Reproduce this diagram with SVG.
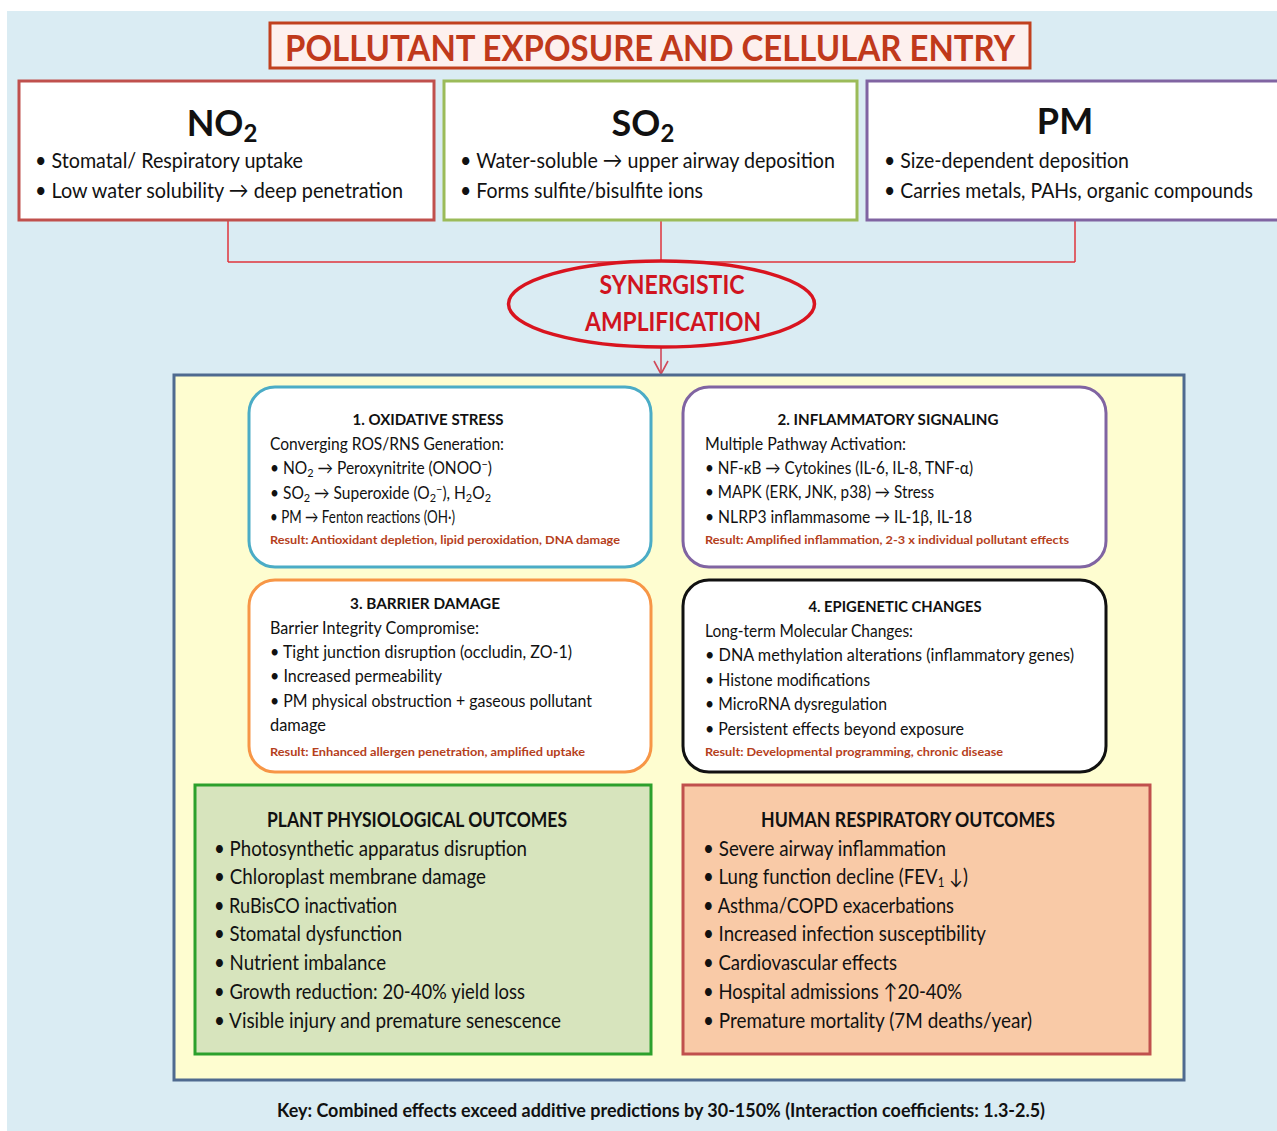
<svg xmlns="http://www.w3.org/2000/svg" width="1277" height="1131" viewBox="0 0 1277 1131">
<defs>
<style>
text{font-family:Lato,"Open Sans","Liberation Sans",sans-serif;fill:#111;}
.hdr{font-size:36px;font-weight:bold;text-anchor:middle;}
.tb{font-size:22px;}
.bt{font-size:16px;font-weight:bold;text-anchor:middle;}
.bl{font-size:17px;}
.res{font-size:12px;font-weight:bold;fill:#b5401c;}
.ot{font-size:20px;font-weight:bold;text-anchor:middle;}
.ob{font-size:21px;}
.inner{fill:#fff;stroke-width:3;}
.conn{stroke:#e0343c;stroke-width:1.5;fill:none;}
</style>
<marker id="vh" markerWidth="16" markerHeight="16" refX="14" refY="8" orient="auto" markerUnits="userSpaceOnUse" viewBox="0 0 16 16">
<path d="M1,1 L14,8 L1,15" fill="none" stroke="#d04a5a" stroke-width="1.6"/>
</marker>
</defs>
<rect x="0" y="0" width="1277" height="1131" fill="#ffffff"/>
<rect x="7" y="11" width="1270" height="1120" fill="#daecf3"/>

<g id="title">
<rect x="270" y="23" width="760" height="45" fill="#fdf0ee" stroke="#c1401e" stroke-width="3"/>
<text x="650" y="61" text-anchor="middle" font-size="36" font-weight="bold" style="fill:#c0391b" textLength="730" lengthAdjust="spacingAndGlyphs">POLLUTANT EXPOSURE AND CELLULAR ENTRY</text>
</g>

<g id="connectors">
<path class="conn" d="M228,220 V262 M661,220 V262 M1075,220 V262 M228,262 H1075"/>
<line x1="661" y1="347" x2="661" y2="374" stroke="#d04a5a" stroke-width="1.6" marker-end="url(#vh)"/>
</g>

<g id="no2">
<rect x="19" y="81" width="415" height="139" fill="#fff" stroke="#c0504d" stroke-width="3"/>
<text class="hdr" x="222" y="136">NO<tspan font-size="24" dy="6">2</tspan></text>
<text class="tb" x="35" y="168" textLength="268" lengthAdjust="spacingAndGlyphs">• Stomatal/ Respiratory uptake</text>
<text class="tb" x="35" y="198" textLength="368" lengthAdjust="spacingAndGlyphs">• Low water solubility → deep penetration</text>
</g>

<g id="so2">
<rect x="444" y="81" width="413" height="139" fill="#fff" stroke="#9bbb59" stroke-width="3"/>
<text class="hdr" x="643" y="136">SO<tspan font-size="24" dy="6">2</tspan></text>
<text class="tb" x="460" y="168" textLength="375" lengthAdjust="spacingAndGlyphs">• Water-soluble → upper airway deposition</text>
<text class="tb" x="460" y="198" textLength="243" lengthAdjust="spacingAndGlyphs">• Forms sulfite/bisulfite ions</text>
</g>

<g id="pm">
<rect x="867" y="81" width="420" height="139" fill="#fff" stroke="#8064a2" stroke-width="3"/>
<text class="hdr" x="1065" y="134">PM</text>
<text class="tb" x="884" y="168" textLength="245" lengthAdjust="spacingAndGlyphs">• Size-dependent deposition</text>
<text class="tb" x="884" y="198" textLength="369" lengthAdjust="spacingAndGlyphs">• Carries metals, PAHs, organic compounds</text>
</g>

<g id="synergy">
<ellipse cx="661.5" cy="304" rx="153" ry="43" fill="#daecf3" stroke="#d9141f" stroke-width="3.5"/>
<text x="672" y="294" text-anchor="middle" font-size="26" font-weight="bold" style="fill:#d0141f" textLength="145" lengthAdjust="spacingAndGlyphs">SYNERGISTIC</text>
<text x="673" y="331" text-anchor="middle" font-size="26" font-weight="bold" style="fill:#d0141f" textLength="176" lengthAdjust="spacingAndGlyphs">AMPLIFICATION</text>
</g>

<g id="mechanisms">
<rect x="174" y="375" width="1010" height="705" fill="#fefdd0" stroke="#4f6a8f" stroke-width="3"/>
</g>

<g id="oxidative">
<rect class="inner" x="249" y="387" width="402" height="180" rx="26" stroke="#4bacc6"/>
<text class="bt" x="428" y="425" textLength="151" lengthAdjust="spacingAndGlyphs">1. OXIDATIVE STRESS</text>
<text class="bl" x="270" y="450" textLength="234" lengthAdjust="spacingAndGlyphs">Converging ROS/RNS Generation:</text>
<text class="bl" x="270" y="474" textLength="222" lengthAdjust="spacingAndGlyphs">• NO<tspan font-size="12" baseline-shift="-3">2</tspan> → Peroxynitrite (ONOO<tspan font-size="12" baseline-shift="6">−</tspan>)</text>
<text class="bl" x="270" y="499" textLength="221" lengthAdjust="spacingAndGlyphs">• SO<tspan font-size="12" baseline-shift="-3">2</tspan> → Superoxide (O<tspan font-size="12" baseline-shift="-3">2</tspan><tspan font-size="12" baseline-shift="6">−</tspan>), H<tspan font-size="12" baseline-shift="-3">2</tspan>O<tspan font-size="12" baseline-shift="-3">2</tspan></text>
<text class="bl" x="270" y="523" textLength="185" lengthAdjust="spacingAndGlyphs">• PM → Fenton reactions (OH·)</text>
<text class="res" x="270" y="544" textLength="350" lengthAdjust="spacingAndGlyphs">Result: Antioxidant depletion, lipid peroxidation, DNA damage</text>
</g>

<g id="inflammatory">
<rect class="inner" x="683" y="387" width="423" height="180" rx="26" stroke="#8064a2"/>
<text class="bt" x="888" y="425" textLength="221" lengthAdjust="spacingAndGlyphs">2. INFLAMMATORY SIGNALING</text>
<text class="bl" x="705" y="450" textLength="201" lengthAdjust="spacingAndGlyphs">Multiple Pathway Activation:</text>
<text class="bl" x="705" y="474" textLength="268" lengthAdjust="spacingAndGlyphs">• NF-κB → Cytokines (IL-6, IL-8, TNF-α)</text>
<text class="bl" x="705" y="498" textLength="229" lengthAdjust="spacingAndGlyphs">• MAPK (ERK, JNK, p38) → Stress</text>
<text class="bl" x="705" y="523" textLength="267" lengthAdjust="spacingAndGlyphs">• NLRP3 inflammasome → IL-1β, IL-18</text>
<text class="res" x="705" y="544" textLength="364" lengthAdjust="spacingAndGlyphs">Result: Amplified inflammation, 2-3 x individual pollutant effects</text>
</g>

<g id="barrier">
<rect class="inner" x="249" y="580" width="402" height="192" rx="26" stroke="#f79646"/>
<text class="bt" x="425" y="609" textLength="150" lengthAdjust="spacingAndGlyphs">3. BARRIER DAMAGE</text>
<text class="bl" x="270" y="634" textLength="209" lengthAdjust="spacingAndGlyphs">Barrier Integrity Compromise:</text>
<text class="bl" x="270" y="658" textLength="302" lengthAdjust="spacingAndGlyphs">• Tight junction disruption (occludin, ZO-1)</text>
<text class="bl" x="270" y="682" textLength="172" lengthAdjust="spacingAndGlyphs">• Increased permeability</text>
<text class="bl" x="270" y="707" textLength="322" lengthAdjust="spacingAndGlyphs">• PM physical obstruction + gaseous pollutant</text>
<text class="bl" x="270" y="731" textLength="56" lengthAdjust="spacingAndGlyphs">damage</text>
<text class="res" x="270" y="756" textLength="315" lengthAdjust="spacingAndGlyphs">Result: Enhanced allergen penetration, amplified uptake</text>
</g>

<g id="epigenetic">
<rect class="inner" x="683" y="580" width="423" height="192" rx="26" stroke="#111"/>
<text class="bt" x="895" y="612" textLength="173" lengthAdjust="spacingAndGlyphs">4. EPIGENETIC CHANGES</text>
<text class="bl" x="705" y="637" textLength="208" lengthAdjust="spacingAndGlyphs">Long-term Molecular Changes:</text>
<text class="bl" x="705" y="661" textLength="369" lengthAdjust="spacingAndGlyphs">• DNA methylation alterations (inflammatory genes)</text>
<text class="bl" x="705" y="686" textLength="165" lengthAdjust="spacingAndGlyphs">• Histone modifications</text>
<text class="bl" x="705" y="710" textLength="182" lengthAdjust="spacingAndGlyphs">• MicroRNA dysregulation</text>
<text class="bl" x="705" y="735" textLength="259" lengthAdjust="spacingAndGlyphs">• Persistent effects beyond exposure</text>
<text class="res" x="705" y="756" textLength="298" lengthAdjust="spacingAndGlyphs">Result: Developmental programming, chronic disease</text>
</g>

<g id="plant">
<rect x="195" y="785" width="456" height="269" fill="#d7e4bd" stroke="#2ca02c" stroke-width="3"/>
<text class="ot" x="417" y="827" textLength="300" lengthAdjust="spacingAndGlyphs">PLANT PHYSIOLOGICAL OUTCOMES</text>
<text class="ob" x="214" y="856" textLength="313" lengthAdjust="spacingAndGlyphs">• Photosynthetic apparatus disruption</text>
<text class="ob" x="214" y="884" textLength="272" lengthAdjust="spacingAndGlyphs">• Chloroplast membrane damage</text>
<text class="ob" x="214" y="913" textLength="183" lengthAdjust="spacingAndGlyphs">• RuBisCO inactivation</text>
<text class="ob" x="214" y="941" textLength="188" lengthAdjust="spacingAndGlyphs">• Stomatal dysfunction</text>
<text class="ob" x="214" y="970" textLength="172" lengthAdjust="spacingAndGlyphs">• Nutrient imbalance</text>
<text class="ob" x="214" y="999" textLength="311" lengthAdjust="spacingAndGlyphs">• Growth reduction: 20-40% yield loss</text>
<text class="ob" x="214" y="1028" textLength="347" lengthAdjust="spacingAndGlyphs">• Visible injury and premature senescence</text>
</g>

<g id="human">
<rect x="683" y="785" width="467" height="269" fill="#f9caa7" stroke="#c0504d" stroke-width="3"/>
<text class="ot" x="908" y="827" textLength="294" lengthAdjust="spacingAndGlyphs">HUMAN RESPIRATORY OUTCOMES</text>
<text class="ob" x="703" y="856" textLength="243" lengthAdjust="spacingAndGlyphs">• Severe airway inflammation</text>
<text class="ob" x="703" y="884" textLength="265" lengthAdjust="spacingAndGlyphs">• Lung function decline (FEV<tspan font-size="13" baseline-shift="-3">1</tspan> ↓)</text>
<text class="ob" x="703" y="913" textLength="251" lengthAdjust="spacingAndGlyphs">• Asthma/COPD exacerbations</text>
<text class="ob" x="703" y="941" textLength="283" lengthAdjust="spacingAndGlyphs">• Increased infection susceptibility</text>
<text class="ob" x="703" y="970" textLength="194" lengthAdjust="spacingAndGlyphs">• Cardiovascular effects</text>
<text class="ob" x="703" y="999" textLength="259" lengthAdjust="spacingAndGlyphs">• Hospital admissions ↑20-40%</text>
<text class="ob" x="703" y="1028" textLength="329" lengthAdjust="spacingAndGlyphs">• Premature mortality (7M deaths/year)</text>
</g>

<g id="key">
<text x="661" y="1117" text-anchor="middle" font-size="19" font-weight="bold" textLength="768" lengthAdjust="spacingAndGlyphs">Key: Combined effects exceed additive predictions by 30-150% (Interaction coefficients: 1.3-2.5)</text>
</g>
</svg>
